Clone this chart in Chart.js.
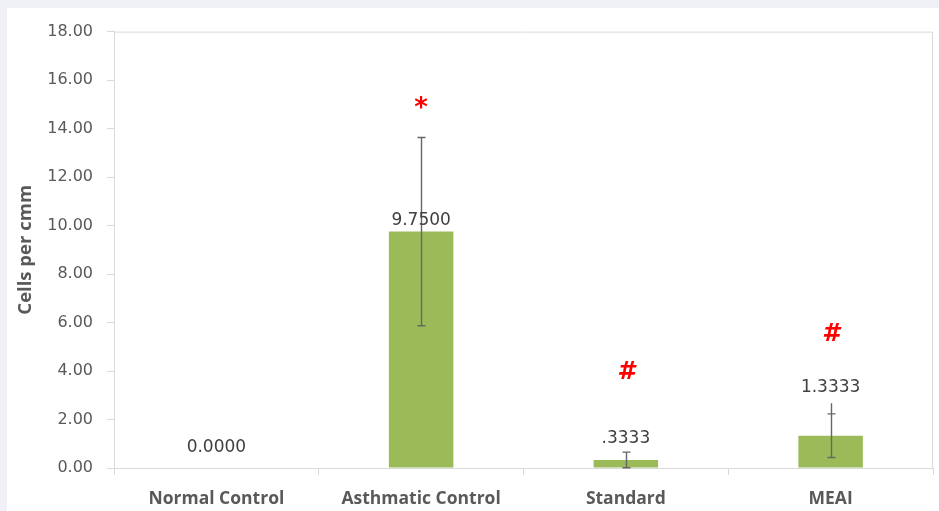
<!DOCTYPE html>
<html>
<head>
<meta charset="utf-8">
<script src="https://cdn.jsdelivr.net/npm/chart.js@4"></script>
<style>
  html, body { margin: 0; padding: 0; background: #f0f1f7; width: 939px; height: 511px; overflow: hidden; }
  #panel { position: absolute; left: 7px; top: 8px; width: 932px; height: 503px; background: #ffffff; }
  canvas { display: block; }
</style>
</head>
<body>
<div id="panel"><canvas id="chart" width="932" height="503"></canvas></div>
<script>
// Eosinophil counts per group (cells per cmm), mean ± error
const categories = ['Normal Control', 'Asthmatic Control', 'Standard', 'MEAI'];
const means = [0, 9.75, 0.3333, 1.3333];
const errors = [0, 3.88, 0.32, 0.9];
const stemTops = [null, null, null, 2.67];
const valueLabels = ['0.0000', '9.7500', '.3333', '1.3333'];
const labelValues = [0.85, 10.2, 1.2, 3.3];
const markers = ['', '*', '#', '#'];
const markerValues = [null, 14.8, 3.95, 5.5];
const yTicks = [0, 2, 4, 6, 8, 10, 12, 14, 16, 18];

const axisGray = '#d9d9d9';
const textGray = '#595959';

const overlay = {
  id: 'overlay',
  afterDatasetsDraw(chart) {
    const { ctx, chartArea: a, scales: { x, y } } = chart;
    ctx.save();
    // frame on top and right of plot area
    ctx.strokeStyle = axisGray;
    ctx.lineWidth = 1;
    ctx.beginPath();
    ctx.moveTo(a.left, a.top + 0.5);
    ctx.lineTo(a.right - 0.5, a.top + 0.5);
    ctx.lineTo(a.right - 0.5, a.bottom);
    ctx.stroke();

    // error bars
    ctx.strokeStyle = '#666666';
    ctx.lineWidth = 1.4;
    means.forEach((m, i) => {
      if (!errors[i]) return;
      const cx = Math.round(x.getPixelForValue(i)) + 0.5;
      const hi = y.getPixelForValue(m + errors[i]);
      const loVal = m - errors[i];
      const lo = y.getPixelForValue(Math.max(0, loVal));
      const top = stemTops[i] != null ? y.getPixelForValue(stemTops[i]) : hi;
      ctx.beginPath();
      ctx.moveTo(cx, top); ctx.lineTo(cx, lo);
      ctx.moveTo(cx - 4, hi); ctx.lineTo(cx + 4, hi);
      if (loVal > 0) { ctx.moveTo(cx - 4, lo); ctx.lineTo(cx + 4, lo); }
      ctx.stroke();
    });

    // value labels
    ctx.fillStyle = '#404040';
    ctx.font = '17px "DejaVu Sans", sans-serif';
    ctx.textAlign = 'center';
    ctx.textBaseline = 'middle';
    valueLabels.forEach((t, i) => {
      ctx.fillText(t, x.getPixelForValue(i), y.getPixelForValue(labelValues[i]));
    });

    // significance markers
    ctx.fillStyle = '#ff0000';
    markers.forEach((t, i) => {
      if (!t) return;
      ctx.font = t === '*' ? 'bold 26px "DejaVu Sans", sans-serif' : 'italic bold 25px "DejaVu Sans", sans-serif';
      ctx.fillText(t, x.getPixelForValue(i), y.getPixelForValue(markerValues[i]));
    });
    ctx.restore();
  }
};

new Chart(document.getElementById('chart'), {
  type: 'bar',
  data: {
    labels: categories,
    datasets: [{
      data: means,
      backgroundColor: '#9bbb59',
      borderWidth: 0,
      categoryPercentage: 1,
      barPercentage: 0.315
    }]
  },
  options: {
    responsive: false,
    animation: false,
    events: [],
    layout: { padding: { top: 20, right: 6, left: 0, bottom: 0 } },
    plugins: { legend: { display: false }, tooltip: { enabled: false } },
    scales: {
      x: {
        grid: { offset: true, drawOnChartArea: false, color: axisGray, tickLength: 7 },
        border: { color: axisGray },
        ticks: { color: textGray, padding: 14, font: { family: '"Open Sans", sans-serif', size: 17.5, weight: 'bold' } },
        afterFit(s) { s.height = 43; }
      },
      y: {
        min: 0, max: 18,
        afterBuildTicks(s) { s.ticks = yTicks.map(v => ({ value: v })); },
        grid: { drawOnChartArea: false, color: axisGray, tickLength: 7 },
        border: { color: axisGray },
        ticks: {
          color: textGray, padding: 14,
          font: { family: '"DejaVu Sans", sans-serif', size: 16 },
          callback: v => v.toFixed(2)
        },
        title: {
          display: true, text: 'Cells per cmm', color: textGray,
          font: { family: '"Open Sans", sans-serif', size: 18.5, weight: 'bold' },
          padding: { top: 8, bottom: 0 }
        },
        afterFit(s) { s.width = 107; }
      }
    }
  },
  plugins: [overlay]
});
</script>
</body>
</html>
